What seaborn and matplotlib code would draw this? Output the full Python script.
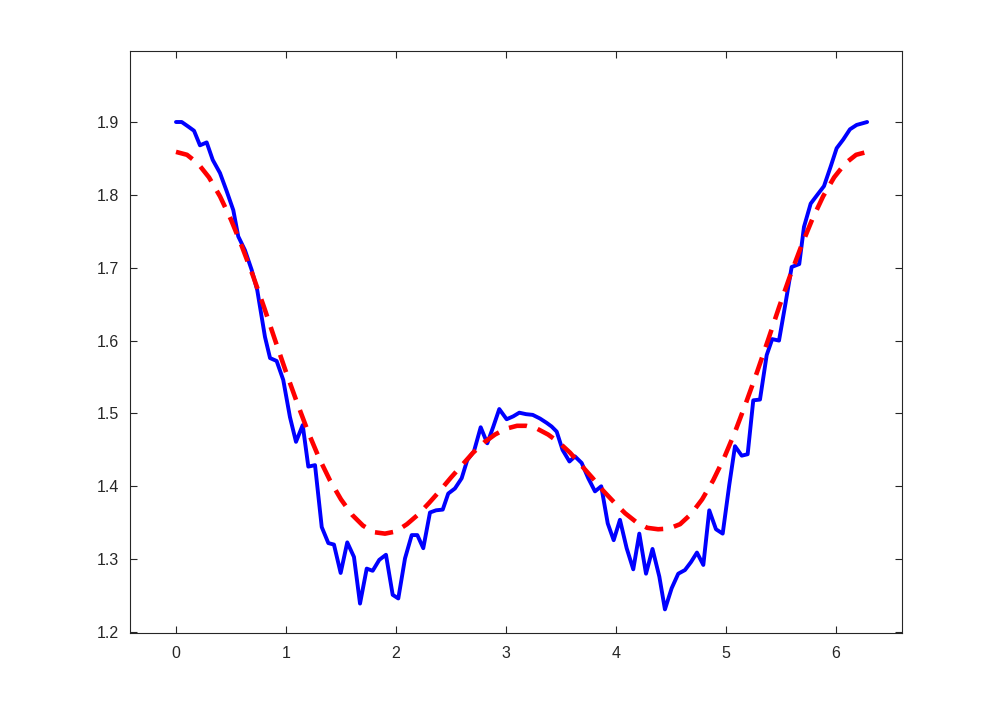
import numpy as np
import pandas as pd
import matplotlib
matplotlib.use("Agg")
import matplotlib.pyplot as plt
import seaborn as sns

x_meas = [0.000, 0.052, 0.109, 0.164, 0.218, 0.279, 0.334, 0.400, 0.461, 0.521,
          0.566, 0.627, 0.688, 0.739, 0.809, 0.855, 0.915, 0.975, 1.036, 1.091,
          1.152, 1.203, 1.264, 1.325, 1.385, 1.436, 1.497, 1.557, 1.618, 1.673,
          1.734, 1.788, 1.848, 1.909, 1.970, 2.021, 2.082, 2.143, 2.194, 2.248,
          2.309, 2.364, 2.425, 2.475, 2.536, 2.597, 2.648, 2.709, 2.770, 2.830,
          2.885, 2.939, 3.006, 3.066, 3.121, 3.182, 3.243, 3.309, 3.370, 3.415,
          3.461, 3.514, 3.577, 3.627, 3.688, 3.748, 3.809, 3.866, 3.925, 3.979,
          4.036, 4.097, 4.157, 4.212, 4.273, 4.332, 4.394, 4.445, 4.506, 4.566,
          4.627, 4.682, 4.736, 4.794, 4.848, 4.909, 4.970, 5.030, 5.082, 5.143,
          5.197, 5.248, 5.309, 5.370, 5.420, 5.482, 5.541, 5.597, 5.666, 5.709,
          5.770, 5.830, 5.891, 5.952, 6.006, 6.066, 6.127, 6.188, 6.236, 6.283]
y_meas = [1.900, 1.900, 1.894, 1.888, 1.868, 1.872, 1.848, 1.830, 1.805, 1.779,
          1.743, 1.724, 1.697, 1.669, 1.605, 1.576, 1.572, 1.546, 1.495, 1.461,
          1.484, 1.427, 1.429, 1.344, 1.322, 1.320, 1.281, 1.323, 1.303, 1.239,
          1.287, 1.284, 1.299, 1.306, 1.251, 1.246, 1.301, 1.333, 1.333, 1.315,
          1.364, 1.367, 1.368, 1.390, 1.397, 1.411, 1.436, 1.448, 1.481, 1.459,
          1.482, 1.506, 1.492, 1.496, 1.501, 1.499, 1.498, 1.493, 1.487, 1.482,
          1.475, 1.450, 1.434, 1.441, 1.432, 1.411, 1.393, 1.400, 1.349, 1.326,
          1.354, 1.315, 1.286, 1.335, 1.280, 1.314, 1.276, 1.231, 1.260, 1.280,
          1.285, 1.296, 1.309, 1.292, 1.367, 1.341, 1.335, 1.402, 1.455, 1.442,
          1.444, 1.518, 1.519, 1.580, 1.602, 1.600, 1.651, 1.701, 1.705, 1.756,
          1.788, 1.800, 1.812, 1.839, 1.864, 1.876, 1.890, 1.896, 1.898, 1.900]

# smooth fitted curve (red dashed)
x_fit = [0.0, 0.1, 0.2, 0.3, 0.4, 0.5, 0.6, 0.7, 0.8, 0.9, 1.0, 1.1, 1.2, 1.3,
         1.4, 1.5, 1.6, 1.7, 1.8, 1.9, 2.0, 2.1, 2.2, 2.3, 2.4, 2.5, 2.6, 2.7,
         2.8, 2.9, 3.0, 3.1, 3.1416, 3.183, 3.283, 3.383, 3.483, 3.583, 3.683,
         3.783, 3.883, 3.983, 4.083, 4.183, 4.283, 4.383, 4.483, 4.583, 4.683,
         4.783, 4.883, 4.983, 5.083, 5.183, 5.283, 5.383, 5.483, 5.583, 5.683,
         5.783, 5.883, 5.983, 6.083, 6.183, 6.283]
y_fit = [1.859, 1.855, 1.843, 1.824, 1.798, 1.766, 1.729, 1.689, 1.646, 1.601,
         1.557, 1.515, 1.475, 1.439, 1.408, 1.382, 1.361, 1.346, 1.337, 1.335,
         1.338, 1.348, 1.361, 1.377, 1.394, 1.412, 1.429, 1.446, 1.460, 1.471,
         1.479, 1.483, 1.483, 1.483, 1.479, 1.471, 1.460, 1.446, 1.429, 1.412,
         1.394, 1.378, 1.363, 1.351, 1.343, 1.341, 1.342, 1.348, 1.362, 1.382,
         1.408, 1.439, 1.475, 1.515, 1.557, 1.601, 1.646, 1.689, 1.729, 1.766,
         1.798, 1.824, 1.843, 1.855, 1.859]

sns.set_style("ticks")
plt.rcParams['font.family'] = ['Liberation Sans', 'DejaVu Sans']

fig = plt.figure(figsize=(9.97, 7.13), dpi=100)
ax = fig.add_axes([0.1304, 0.1122, 0.7743, 0.8163])

meas = pd.DataFrame({"x": x_meas, "y": y_meas})
fit = pd.DataFrame({"x": x_fit, "y": y_fit})

sns.lineplot(data=meas, x="x", y="y", ax=ax, color="#0000ff", linewidth=2.8,
             sort=False, estimator=None)
sns.lineplot(data=fit, x="x", y="y", ax=ax, color="#ff0000", linewidth=3.3,
             sort=False, estimator=None)
ax.lines[-1].set_dashes([4.0, 2.4])

ax.set_xlim(-0.418, 6.6)
ax.set_ylim(1.1986, 1.9975)
ax.set_xticks(range(0, 7))
ax.set_yticks([1.2, 1.3, 1.4, 1.5, 1.6, 1.7, 1.8, 1.9])
ax.set_yticklabels(["1.2", "1.3", "1.4", "1.5", "1.6", "1.7", "1.8", "1.9"])
ax.set_xlabel("")
ax.set_ylabel("")

for s in ax.spines.values():
    s.set_visible(True)
    s.set_color("#262626")
    s.set_linewidth(0.8)
ax.tick_params(direction="in", length=5, width=0.8, color="#262626",
               labelcolor="#262626", labelsize=11.5, top=True, right=True)
ax.tick_params(axis="x", pad=9)
ax.tick_params(axis="y", pad=8)

fig.savefig("out.png", dpi=100)
